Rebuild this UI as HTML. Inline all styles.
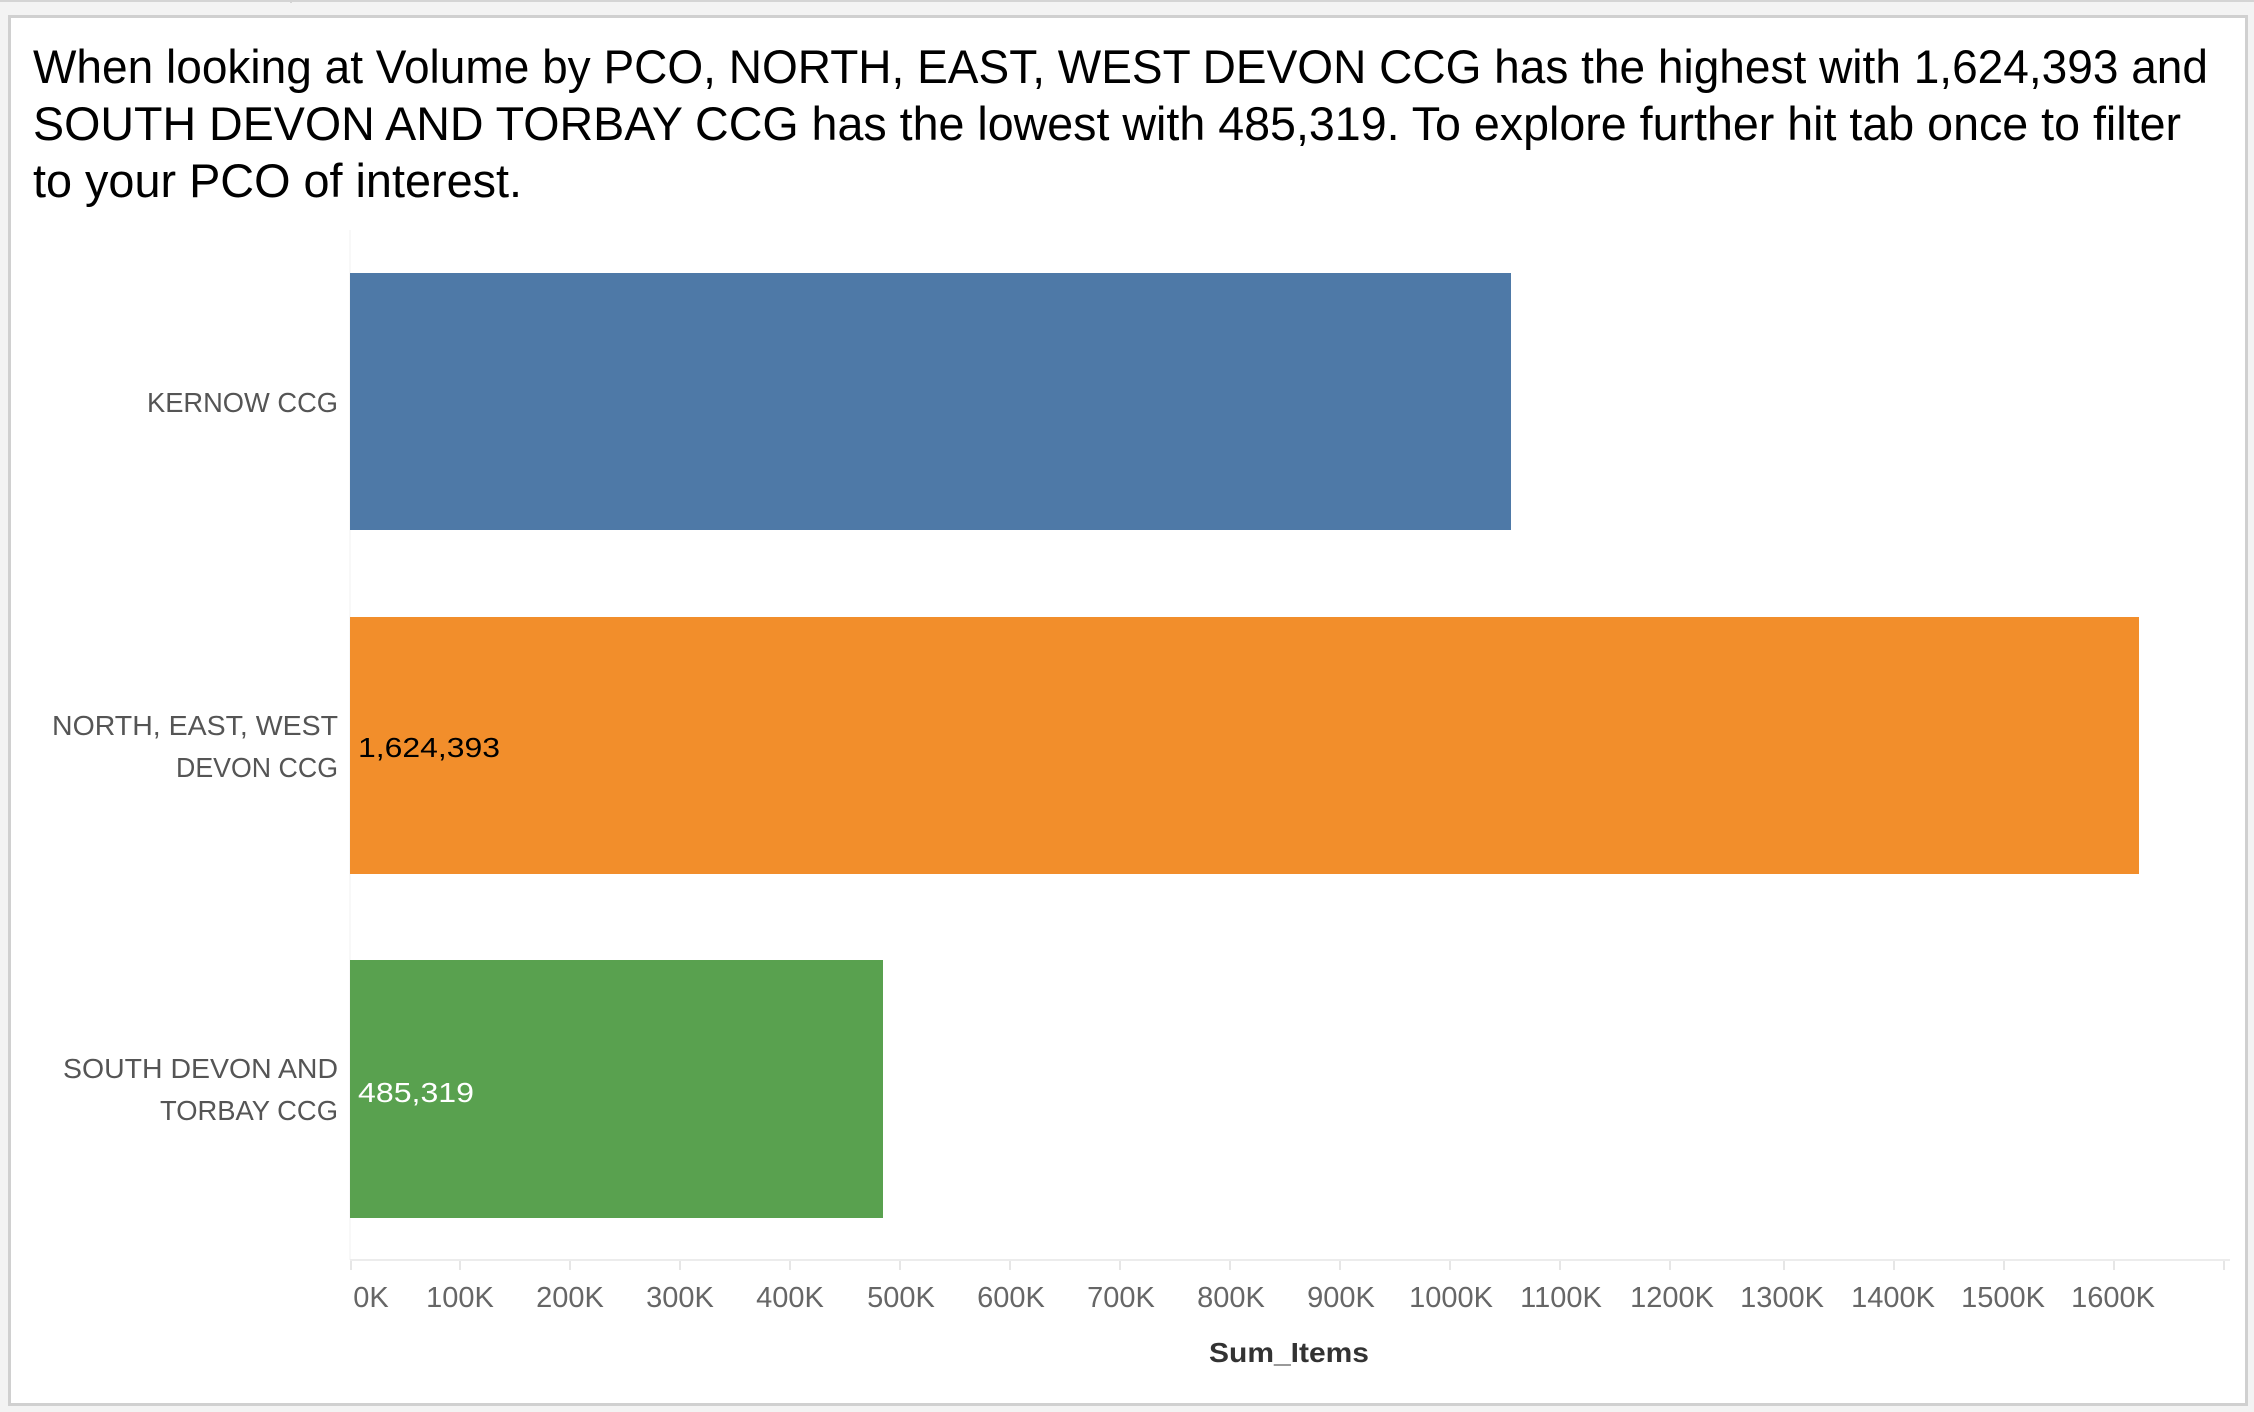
<!DOCTYPE html>
<html><head><meta charset="utf-8"><style>
html,body{margin:0;padding:0;background:#f3f3f3;}
svg{display:block;}
text{font-family:"Liberation Sans",sans-serif;}
</style></head><body>
<svg width="2254" height="1412" viewBox="0 0 2254 1412" xmlns="http://www.w3.org/2000/svg">
<rect x="0" y="0" width="2254" height="1412" fill="#f3f3f3"/>
<line x1="0" y1="1" x2="2254" y2="1" stroke="#d4d4d4" stroke-width="2"/>
<line x1="291" y1="0" x2="291" y2="3" stroke="#d4d4d4" stroke-width="2"/>
<rect x="9.5" y="16.5" width="2237" height="1388" fill="#fff" stroke="#d0d0d0" stroke-width="3"/>
<g fill="#000" font-size="47">
<text x="33" y="83" textLength="2175" lengthAdjust="spacingAndGlyphs">When looking at Volume by PCO, NORTH, EAST, WEST DEVON CCG  has the highest with 1,624,393 and</text>
<text x="33" y="140" textLength="2148" lengthAdjust="spacingAndGlyphs">SOUTH DEVON AND TORBAY CCG has the lowest with 485,319. To explore further hit tab once to filter</text>
<text x="33" y="197" textLength="489" lengthAdjust="spacingAndGlyphs">to your PCO of interest.</text>
</g>
<line x1="350" y1="230" x2="350" y2="1260" stroke="#f0f0f0" stroke-width="1"/>
<rect x="350" y="273" width="1161" height="257" fill="#4e79a7"/>
<rect x="350" y="617" width="1789" height="257" fill="#f28e2b"/>
<rect x="350" y="960" width="533" height="258" fill="#59a14f"/>
<g fill="#555" font-size="28" text-anchor="end">
<text x="338" y="412" textLength="191" lengthAdjust="spacingAndGlyphs">KERNOW CCG</text>
<text x="338" y="735" textLength="286" lengthAdjust="spacingAndGlyphs">NORTH, EAST, WEST</text>
<text x="338" y="777" textLength="162" lengthAdjust="spacingAndGlyphs">DEVON CCG</text>
<text x="338" y="1078" textLength="275" lengthAdjust="spacingAndGlyphs">SOUTH DEVON AND</text>
<text x="338" y="1120" textLength="178" lengthAdjust="spacingAndGlyphs">TORBAY CCG</text>
</g>
<text x="358" y="757" font-size="28" fill="#000" textLength="142" lengthAdjust="spacingAndGlyphs">1,624,393</text>
<text x="358" y="1102" font-size="28" fill="#fff" textLength="116" lengthAdjust="spacingAndGlyphs">485,319</text>
<line x1="350" y1="1260" x2="2230" y2="1260" stroke="#ececec" stroke-width="2"/>
<g stroke="#e6e6e6" stroke-width="2">
<line x1="351" y1="1261" x2="351" y2="1270"/><line x1="460" y1="1261" x2="460" y2="1270"/><line x1="570" y1="1261" x2="570" y2="1270"/><line x1="680" y1="1261" x2="680" y2="1270"/><line x1="790" y1="1261" x2="790" y2="1270"/><line x1="900" y1="1261" x2="900" y2="1270"/><line x1="1010" y1="1261" x2="1010" y2="1270"/><line x1="1120" y1="1261" x2="1120" y2="1270"/><line x1="1230" y1="1261" x2="1230" y2="1270"/><line x1="1340" y1="1261" x2="1340" y2="1270"/><line x1="1450" y1="1261" x2="1450" y2="1270"/><line x1="1560" y1="1261" x2="1560" y2="1270"/><line x1="1670" y1="1261" x2="1670" y2="1270"/><line x1="1784" y1="1261" x2="1784" y2="1270"/><line x1="1894" y1="1261" x2="1894" y2="1270"/><line x1="2004" y1="1261" x2="2004" y2="1270"/><line x1="2114" y1="1261" x2="2114" y2="1270"/><line x1="2224" y1="1261" x2="2224" y2="1270"/>
</g>
<g fill="#666" font-size="29" text-anchor="middle">
<text x="371" y="1307">0K</text>
<text x="460" y="1307">100K</text>
<text x="570" y="1307">200K</text>
<text x="680" y="1307">300K</text>
<text x="790" y="1307">400K</text>
<text x="901" y="1307">500K</text>
<text x="1011" y="1307">600K</text>
<text x="1121" y="1307">700K</text>
<text x="1231" y="1307">800K</text>
<text x="1341" y="1307">900K</text>
<text x="1451" y="1307">1000K</text>
<text x="1561" y="1307">1100K</text>
<text x="1672" y="1307">1200K</text>
<text x="1782" y="1307">1300K</text>
<text x="1893" y="1307">1400K</text>
<text x="2003" y="1307">1500K</text>
<text x="2113" y="1307">1600K</text>
</g>
<text x="1289" y="1362" font-size="28" font-weight="bold" fill="#333" text-anchor="middle" textLength="160" lengthAdjust="spacingAndGlyphs">Sum_Items</text>
</svg>
</body></html>
